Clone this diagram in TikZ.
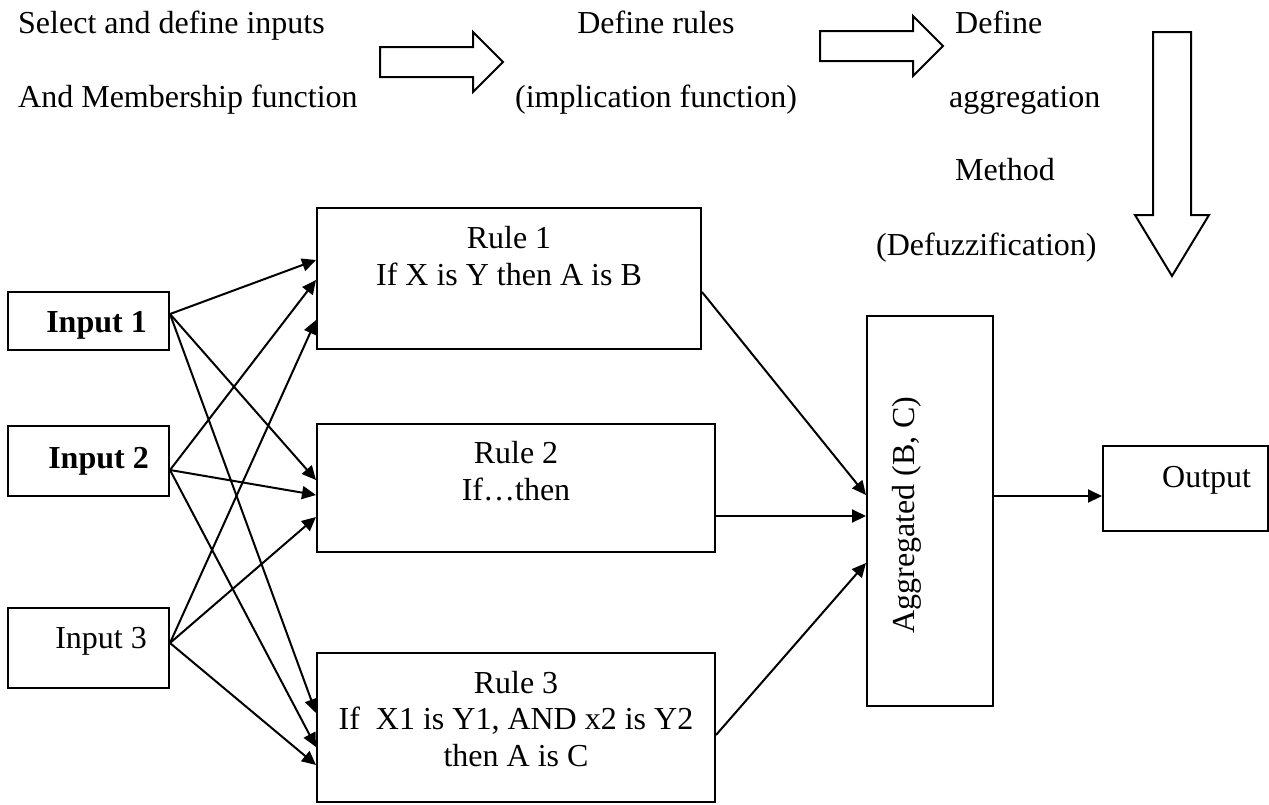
\documentclass[tikz,border=0pt]{standalone}
\usepackage{fontspec}
\setmainfont{Liberation Serif}
\usetikzlibrary{arrows.meta}

\begin{document}
\begin{tikzpicture}[x=1pt,y=-1pt,%%
  arrowStyle/.style={-{Triangle[length=14pt,width=13pt]},line width=2pt},%%
  blockStyle/.style={draw,line width=2pt,line join=miter},%%
  boxStyle/.style={draw,rectangle,line width=2pt,inner sep=0pt},%%
  labelStyle/.style={inner sep=0pt,font=\fontsize{32}{37}\selectfont}%%
]
%%
%%
\pgfmathsetmacro{\inx}{88.5}   %% centre of the input boxes
\pgfmathsetmacro{\inw}{161}    %% width of the input boxes
\pgfmathsetmacro{\rulex}{516}  %% centre of rules 2 and 3
\pgfmathsetmacro{\rulew}{398}  %% width of rules 2 and 3
%%
\useasboundingbox (0,0) rectangle (1269,804);
%%
%% The steps on top.
\node[labelStyle,anchor=base west] (stepOneA) at (18,33) {Select and define inputs};
\node[labelStyle,anchor=base west] (stepOneB) at (18,107) {And Membership function};
\node[labelStyle,anchor=base] (stepTwoA) at (656,33) {Define rules};
\node[labelStyle,anchor=base] (stepTwoB) at (656,107) {(implication function)};
\node[labelStyle,anchor=base west] (stepThreeA) at (955,33) {Define};
\node[labelStyle,anchor=base west] (stepThreeB) at (949,107) {aggregation};
\node[labelStyle,anchor=base west] (stepThreeC) at (955,180) {Method};
\node[labelStyle,anchor=base west] (stepThreeD) at (876,255) {(Defuzzification)};
%% The block arrows between the steps.
\draw[blockStyle] (380,47) -- (473,47) -- (473,32) -- (503,62) -- (473,92) -- (473,77) -- (380,77) -- cycle;
\draw[blockStyle] (820,31) -- (913,31) -- (913,16) -- (943,46) -- (913,76) -- (913,61) -- (820,61) -- cycle;
\draw[blockStyle] (1153,32) -- (1191,32) -- (1191,215) -- (1209,215) -- (1172,276) -- (1135,215) -- (1153,215) -- cycle;
%%
%% The inputs.
\node[boxStyle,minimum width=\inw pt,minimum height=58pt] (inputOne) at (\inx,321) {};
\node[boxStyle,minimum width=\inw pt,minimum height=70pt] (inputTwo) at (\inx,461) {};
\node[boxStyle,minimum width=\inw pt,minimum height=80pt] (inputThree) at (\inx,648) {};
\node[labelStyle,anchor=base east] (inputOneText) at (147,332) {\textbf{Input 1}};
\node[labelStyle,anchor=base east] (inputTwoText) at (149,468) {\textbf{Input 2}};
\node[labelStyle,anchor=base east] (inputThreeText) at (147,648) {Input 3};
%%
%% The rules.
\node[boxStyle,minimum width=384pt,minimum height=141pt] (ruleOne) at (509,278.5) {};
\node[boxStyle,minimum width=\rulew pt,minimum height=128pt] (ruleTwo) at (\rulex,488) {};
\node[boxStyle,minimum width=\rulew pt,minimum height=149pt] (ruleThree) at (\rulex,727.5) {};
\node[labelStyle,anchor=base] (ruleOneA) at (509,248) {Rule 1};
\node[labelStyle,anchor=base] (ruleOneB) at (509,285) {If X is Y then A is B};
\node[labelStyle,anchor=base] (ruleTwoA) at (\rulex,463) {Rule 2};
\node[labelStyle,anchor=base] (ruleTwoB) at (\rulex,500) {If…then};
\node[labelStyle,anchor=base] (ruleThreeA) at (\rulex,693) {Rule 3};
\node[labelStyle,anchor=base] (ruleThreeB) at (\rulex,729) {If \ X1 is Y1, AND x2 is Y2};
\node[labelStyle,anchor=base] (ruleThreeC) at (\rulex,766) {then A is C};
%%
%% The aggregation and the output.
\node[boxStyle,minimum width=126pt,minimum height=390pt] (aggregated) at (930,511) {};
\node[labelStyle,rotate=90] (aggregatedText) at (907,515) {Aggregated (B, C)};
\node[boxStyle,minimum width=165pt,minimum height=85pt] (output) at (1185.5,488.5) {};
\node[labelStyle,anchor=base west] (outputText) at (1162,487) {Output};
%%
%% Inputs to rules.
\draw[arrowStyle] ([yshift=7pt]inputOne.east) -- ([yshift=18.5pt]ruleOne.west);
\draw[arrowStyle] ([yshift=7pt]inputOne.east) -- ([yshift=8pt]ruleTwo.west);
\draw[arrowStyle] ([yshift=7pt]inputOne.east) -- ([yshift=14.5pt]ruleThree.west);
\draw[arrowStyle] ([yshift=-9pt]inputTwo.east) -- ([yshift=-1.5pt]ruleOne.west);
\draw[arrowStyle] ([yshift=-9pt]inputTwo.east) -- ([yshift=-7pt]ruleTwo.west);
\draw[arrowStyle] ([yshift=-9pt]inputTwo.east) -- ([yshift=-19.5pt]ruleThree.west);
\draw[arrowStyle] ([yshift=5pt]inputThree.east) -- ([yshift=-41.5pt]ruleOne.west);
\draw[arrowStyle] ([yshift=5pt]inputThree.east) -- ([yshift=-29pt]ruleTwo.west);
\draw[arrowStyle] ([yshift=5pt]inputThree.east) -- ([yshift=-37.5pt]ruleThree.west);
%% Rules to aggregation.
\draw[arrowStyle] ([yshift=-13.5pt]ruleOne.east) -- ([yshift=16pt]aggregated.west);
\draw[arrowStyle] ([yshift=-28pt]ruleTwo.east) -- ([yshift=-5pt]aggregated.west);
\draw[arrowStyle] ([yshift=-7.5pt]ruleThree.east) -- ([yshift=-52pt]aggregated.west);
%% Aggregation to output.
\draw[arrowStyle] ([yshift=15pt]aggregated.east) -- ([yshift=-7.5pt]output.west);
\end{tikzpicture}
\end{document}
